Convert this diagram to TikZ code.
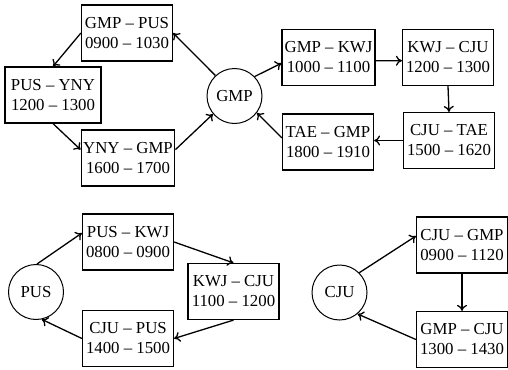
\documentclass[tikz,border=0pt]{standalone}
\usepackage{fontspec}
\setmainfont{Liberation Serif}
\usetikzlibrary{arrows.meta}
\begin{document}
\begin{tikzpicture}[x=1pt, y=-1pt, line width=1.2pt,
        every node/.style={font=\fontsize{16.8}{20}\selectfont},
        flight/.style={draw, align=center, minimum width=91pt, minimum height=56pt, inner sep=2pt},
        base/.style={draw, circle, minimum size=55pt, inner sep=0pt, line width=1pt},
        leg/.style={-{To[length=6pt,width=10pt]}, line width=1.3pt}]
            \useasboundingbox (0,0) rectangle (508,369);
            \node[base] (gmp) at (234.5,96) {GMP};
            \node[flight] (gp) at (127,33) {GMP – PUS\\0900 – 1030};
            \node[flight, minimum width=96pt] (py) at (53,95) {PUS – YNY\\1200 – 1300};
            \node[flight] (yg) at (128,158) {YNY – GMP\\1600 – 1700};
            \node[flight, minimum width=93pt] (gk) at (328.5,57.5) {GMP – KWJ\\1000 – 1100};
            \node[flight] (kc) at (448,57.5) {KWJ – CJU\\1200 – 1300};
            \node[flight] (ct) at (449,140.5) {CJU – TAE\\1500 – 1620};
            \node[flight] (tg) at (328,142) {TAE – GMP\\1800 – 1910};
            \draw[leg] (gmp.133) -- (gp.east);
            \draw[leg] (gp.west) -- (py.north);
            \draw[leg] (py.south) -- (yg.170);
            \draw[leg] (yg.10) -- (gmp.220);
            \draw[leg] (gmp.44) -- (gk.187);
            \draw[leg] (gk.-4) -- (kc.184);
            \draw[leg] (kc.south) -- (ct.north);
            \draw[leg] (ct.west) -- (ct.west -| tg.east);
            \draw[leg] (tg.175) -- (gmp.323);
            \node[base] (pus) at (36,292) {PUS};
            \node[flight] (pk) at (128,242) {PUS – KWJ\\0800 – 0900};
            \node[flight] (kcb) at (233.5,291.5) {KWJ – CJU\\1100 – 1200};
            \node[flight] (cp) at (128,338.5) {CJU – PUS\\1400 – 1500};
            \draw[leg] (pus.88) -- (pk.169);
            \draw[leg] (pk.east) -- (kcb.north);
            \draw[leg] (kcb.south) -- (cp.east);
            \draw[leg] (cp.west) -- (pus.282);
            \node[base] (cju) at (339.5,292.5) {CJU};
            \node[flight] (cg) at (462,245) {CJU – GMP\\0900 – 1120};
            \node[flight] (gc) at (462,339.5) {GMP – CJU\\1300 – 1430};
            \draw[leg] (cju.45) -- (cg.169);
            \draw[leg] (cg.south) -- (gc.north);
            \draw[leg] (gc.west) -- (cju.310);
        \end{tikzpicture}
\end{document}
